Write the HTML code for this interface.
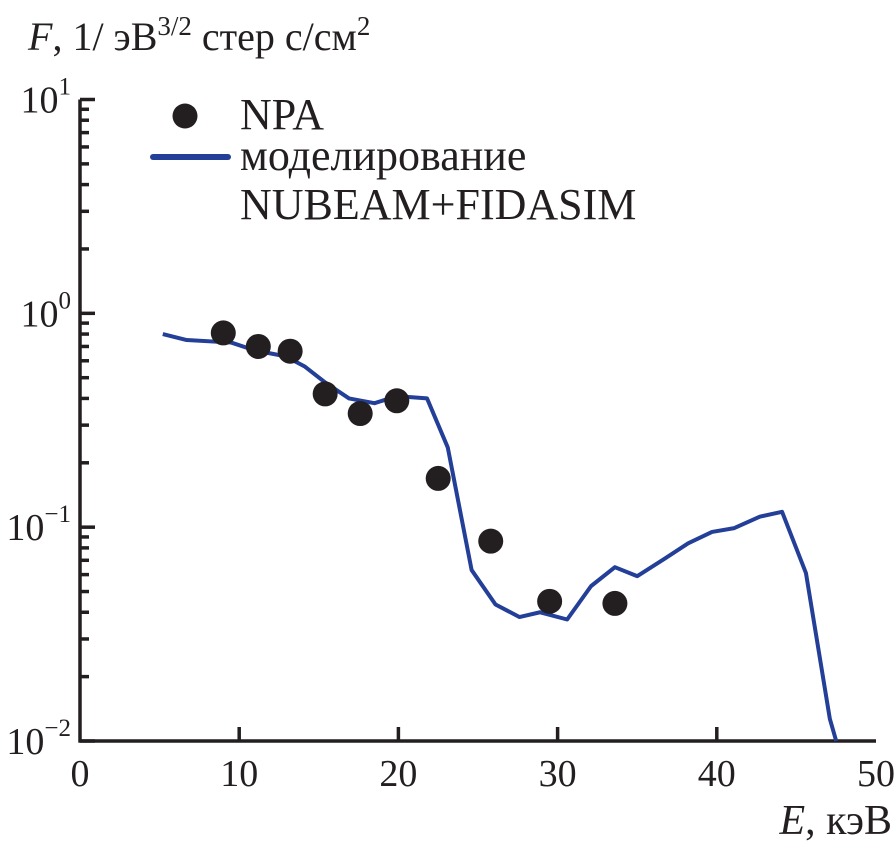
<!DOCTYPE html>
<html><head><meta charset="utf-8"><style>
body{margin:0;background:#fff}
svg{display:block}
text{font-family:"Liberation Serif",serif;fill:#231f20}
</style></head><body>
<svg id="chart" width="896" height="848" viewBox="0 0 896 848" xmlns="http://www.w3.org/2000/svg">
<text x="28" y="50" font-size="40"><tspan font-style="italic">F</tspan>, 1/ эВ<tspan font-size="27" dy="-15">3/2</tspan><tspan dy="15"> стер с/см</tspan><tspan font-size="27" dy="-15">2</tspan></text>
<text x="892" y="834" font-size="42" text-anchor="end"><tspan font-style="italic">E</tspan>, кэВ</text>
<g id="axes"></g>
<g id="marks"></g>
<g>
<circle cx="185" cy="116" r="12.5" fill="#231f20"/>
<text x="240" y="129" font-size="44">NPA</text>
<line x1="153" y1="157" x2="228" y2="157" stroke="#233f97" stroke-width="6" stroke-linecap="round"/>
<text x="240" y="170" font-size="44">моделирование</text>
<text x="240" y="219" font-size="44">NUBEAM+FIDASIM</text>
</g>
</svg>
<script>
const lineE=[5.2,6.7,9.5,11.0,12.9,14.1,15.4,16.9,18.5,19.9,21.8,23.1,24.6,26.1,27.6,28.9,30.6,32.1,33.6,35.0,36.7,38.2,39.7,41.1,42.7,44.1,45.6,47.1,47.5];
const lineF=[0.80,0.75,0.73,0.67,0.63,0.565,0.475,0.40,0.38,0.41,0.40,0.236,0.063,0.0435,0.038,0.040,0.037,0.053,0.065,0.059,0.071,0.084,0.095,0.099,0.112,0.118,0.061,0.0127,0.01];
const npaE=[9.0,11.2,13.2,15.4,17.6,19.9,22.5,25.8,29.5,33.6];
const npaF=[0.81,0.70,0.665,0.42,0.34,0.39,0.169,0.086,0.045,0.044];
const xTicks=[0,10,20,30,40,50];
const yExps=[1,0,-1,-2];
const NS="http://www.w3.org/2000/svg";
const X0=80,X1=876,Ybot=741,Ytop=99.5;
const xs=v=>X0+(v/50)*(X1-X0);
const ys=v=>Ybot-(Math.log10(v)+2)/3*(Ybot-Ytop);
function mk(t,a,p){const e=document.createElementNS(NS,t);for(const k in a)e.setAttribute(k,a[k]);p.appendChild(e);return e;}
const ax=document.getElementById('axes'),mg=document.getElementById('marks');
const yl=mk('line',{x1:X0,y1:Ytop,x2:X0,y2:Ybot+1.5,stroke:'#231f20','stroke-width':3.5},ax);


const xl=mk('line',{x1:X0-1.5,y1:Ybot,x2:X1,y2:Ybot,stroke:'#231f20','stroke-width':3.5},ax);


xTicks.forEach(v=>{
  if(v>0&&v<50){const t=mk('line',{x1:xs(v),y1:Ybot,x2:xs(v),y2:Ybot-14,stroke:'#231f20','stroke-width':3.5},ax);
  
  }
  const l=mk('text',{x:xs(v),y:Ybot+45,'font-size':38,'text-anchor':'middle'},ax);l.textContent=v;
  
  
});
yExps.forEach(e=>{
  const y=ys(Math.pow(10,e));
  const t=mk('line',{x1:X0,y1:y,x2:X0+15,y2:y,stroke:'#231f20','stroke-width':3.5},ax);
  
  
  const l=mk('text',{x:71,y:y+13,'font-size':38,'text-anchor':'end'},ax);
  l.innerHTML='10<tspan font-size="25" dy="-18">'+(e<0?'\u2212'+(-e):e)+'</tspan>';
  
  
  if(e>-2){for(let m=2;m<=9;m++){const yy=ys(m*Math.pow(10,e-1));
    const mt=mk('line',{x1:X0,y1:yy,x2:X0+9,y2:yy,stroke:'#231f20','stroke-width':3.5},ax);
    
    }}
});
const pl=mk('polyline',{points:lineE.map((e,i)=>xs(e)+','+ys(lineF[i])).join(' '),fill:'none',stroke:'#233f97','stroke-width':4,'stroke-linejoin':'round'},mg);


npaE.forEach((e,i)=>{
  const c=mk('circle',{cx:xs(e),cy:ys(npaF[i]),r:12.5,fill:'#231f20'},mg);
  
  
});
</script>
</body></html>
